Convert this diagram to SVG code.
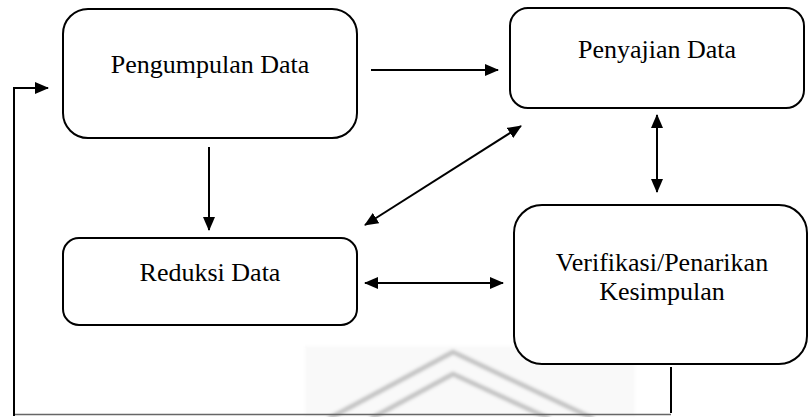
<svg xmlns="http://www.w3.org/2000/svg" width="811" height="417" viewBox="0 0 811 417">
  <style>
    .box { fill: #ffffff; stroke: #000000; stroke-width: 2; }
    .label { font-family: "Liberation Serif", "Times New Roman", serif; font-size: 26px; fill: #000000; text-anchor: middle; }
    .link { fill: none; stroke: #000000; stroke-width: 2; }
    .wm { fill: none; stroke: #bcbcbc; stroke-width: 5; stroke-linecap: round; stroke-linejoin: round; }
  </style>
  <defs>
    <marker id="head" viewBox="0 0 14 12" refX="13" refY="6" markerWidth="14" markerHeight="12" markerUnits="userSpaceOnUse" orient="auto-start-reverse">
      <path d="M0,0 L14,6 L0,12 Z" fill="#000000"/>
    </marker>
    <filter id="soft" x="-10%" y="-20%" width="120%" height="140%">
      <feGaussianBlur stdDeviation="1.6"/>
    </filter>
  </defs>

  <rect width="811" height="417" fill="#ffffff"/>

  <!-- faint background emblem -->
  <g id="emblem" filter="url(#soft)" opacity="0.85">
    <rect x="305" y="346" width="330" height="71" fill="#f8f8f8"/>
    <path class="wm" d="M330,418 L453,352 L592,418"/>
    <path class="wm" d="M372,418 L453,374 L548,418" stroke-width="3" stroke="#c4c4c4"/>
  </g>

  <!-- nodes -->
  <g id="pengumpulan">
    <rect class="box" x="63" y="9" width="294" height="129" rx="25"/>
    <text class="label" x="210" y="73">Pengumpulan Data</text>
  </g>
  <g id="penyajian">
    <rect class="box" x="510" y="8" width="294" height="100" rx="18"/>
    <text class="label" x="657" y="58">Penyajian Data</text>
  </g>
  <g id="reduksi">
    <rect class="box" x="63" y="238" width="294" height="87" rx="16"/>
    <text class="label" x="210" y="281">Reduksi Data</text>
  </g>
  <g id="verifikasi">
    <rect class="box" x="514" y="205" width="293" height="159" rx="28"/>
    <text class="label" x="662" y="271">Verifikasi/Penarikan</text>
    <text class="label" x="662" y="300">Kesimpulan</text>
  </g>

  <!-- connectors -->
  <g id="connectors">
    <line class="link" x1="371" y1="70" x2="498" y2="70" marker-end="url(#head)"/>
    <line class="link" x1="209" y1="147" x2="209" y2="230" marker-end="url(#head)"/>
    <line class="link" x1="657" y1="115" x2="657" y2="192" marker-start="url(#head)" marker-end="url(#head)"/>
    <line class="link" x1="365" y1="225" x2="521" y2="126" marker-start="url(#head)" marker-end="url(#head)"/>
    <line class="link" x1="365" y1="283" x2="503" y2="283" marker-start="url(#head)" marker-end="url(#head)"/>
    <!-- feedback loop back to data collection -->
    <line class="link" x1="671" y1="367" x2="671" y2="413"/>
    <line x1="15" y1="414.5" x2="671" y2="414.5" stroke="#666666" stroke-width="1.6"/>
    <polyline class="link" points="14,416 14,88 48,88" marker-end="url(#head)"/>
  </g>
</svg>
